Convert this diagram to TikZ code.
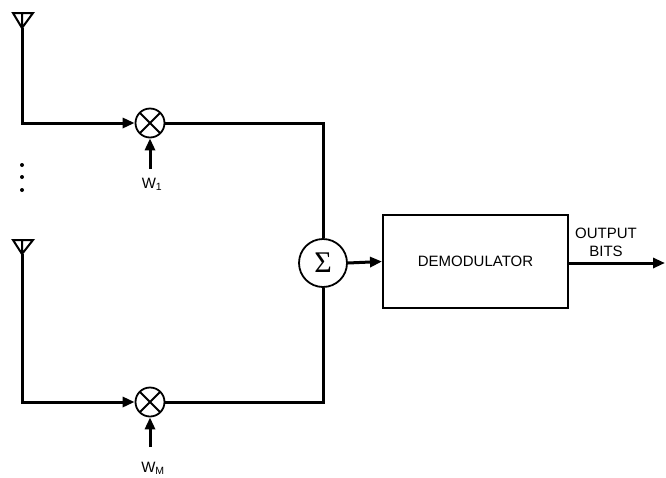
\documentclass[tikz,border=0pt]{standalone}
\usepackage{fontspec}
\setmainfont{Liberation Sans}
\newfontfamily\sigfont{Liberation Serif}
\usetikzlibrary{arrows.meta}
\begin{document}
\begin{tikzpicture}[x=1pt,y=-1pt,
  wire/.style={line width=3pt},
  arr/.style={wire,-{Triangle[length=12pt,width=10pt]}},
  mult/.style={circle,draw,line width=1.8pt,minimum size=29pt,inner sep=0pt,
    path picture={\draw[line width=1.8pt] (path picture bounding box.north west)--(path picture bounding box.south east)
      (path picture bounding box.north east)--(path picture bounding box.south west);}},
  sumnode/.style={circle,draw,line width=1.8pt,minimum size=48pt,inner sep=0pt},
  box/.style={draw,line width=2pt,minimum width=185pt,minimum height=93pt,inner sep=0pt},
  lbl/.style={font=\fontsize{15}{17}\selectfont,inner sep=0pt},
  antenna/.style={line width=2pt,line join=miter}]
\useasboundingbox (0,0) rectangle (666,477);
% antennas
\draw[antenna] (13,13) -- (33,13) -- (22,28) -- cycle (22,13) -- (22,28);
\coordinate (a1) at (22,28);
\draw[antenna] (13,240) -- (33,240) -- (22,254) -- cycle (22,240) -- (22,254);
\coordinate (a2) at (22,254);
% multipliers
\node[mult] (m1) at (150,123) {};
\node[mult] (m2) at (150,402) {};
\coordinate (w1s) at (150,169);
\coordinate (w2s) at (150,447);
\node[lbl] (w1) at (152,184) {W$_{\mathrm{\fontsize{11}{12}\selectfont 1}}$};
\node[lbl] (w2) at (153,468) {W$_{\mathrm{\fontsize{11}{12}\selectfont M}}$};
% dots
\node[circle,fill,inner sep=0pt,minimum size=4pt] (d1) at (22,165) {};
\node[circle,fill,inner sep=0pt,minimum size=4pt] (d2) at (22,177) {};
\node[circle,fill,inner sep=0pt,minimum size=4pt] (d3) at (22,190) {};
% sum and demodulator
\node[sumnode] (s) at (323,263) {};
\node[inner sep=0pt,font=\sigfont\fontsize{30}{32}\selectfont] (sig) at (s.center) {Σ};
\node[box,lbl] (dem) at (475.5,261.5) {DEMODULATOR};
\coordinate (out) at (665,263);
\node[lbl,align=center] (ob) at (606,242) {OUTPUT\\[1pt]BITS};
% connectors
\draw[arr] (a1) |- (m1.west);
\draw[arr] (a2) |- (m2.west);
\draw[arr] (w1s) -- (m1.south);
\draw[arr] (w2s) -- (m2.south);
\draw[wire] (m1.east) -| (s.north);
\draw[wire] (m2.east) -| (s.south);
\draw[arr] (s.east) -- (dem.west);
\draw[arr] (dem.east |- out) -- (out);
\end{tikzpicture}
\end{document}
